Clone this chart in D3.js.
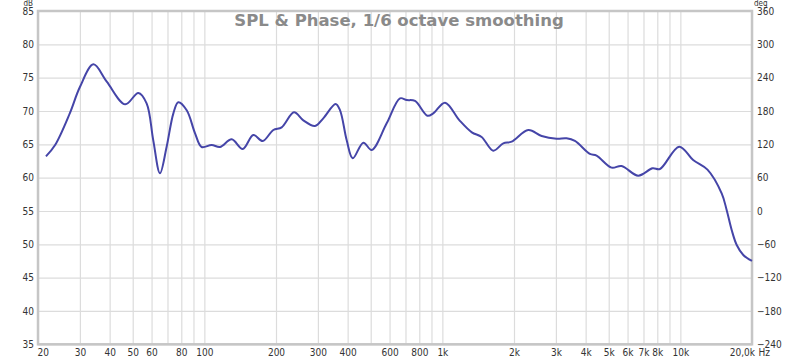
<!DOCTYPE html>
<html>
<head>
<meta charset="utf-8">
<script src="https://cdn.jsdelivr.net/npm/d3@7"></script>
<style>
  body { margin: 0; background: #fff; }
  svg { display: block; }
</style>
</head>
<body>
<div id="chart"></div>
<script>
// SPL curve, 1/6 octave smoothed
const freqs = [21.6, 23.6, 27.2, 30.0, 34.2, 38.9, 46.5, 52.8, 57.2, 61.0, 65.1, 69.4, 74.1, 77.7, 84.3, 91.4, 97.4,
  107.3, 116.3, 130.3, 144.9, 160.6, 175.8, 194.9, 211.3, 238, 260.5, 291.6, 316, 356, 371.7, 396.4, 420.2,
  465.6, 504.7, 583.5, 663.8, 708, 767.6, 865, 916, 1026, 1180, 1330, 1462, 1636, 1803, 1955, 2296, 2614,
  3020, 3327, 3606, 4168, 4446, 5140, 5663, 6650, 7640, 8206, 9890, 11320, 13000, 14930, 15650, 16430,
  17250, 18380, 20000]
const spl = [63.2, 64.9, 69.65, 73.6, 77.0, 74.4, 71.0, 72.7, 71.15, 65.6, 60.65, 64.6, 69.65, 71.3, 70.1, 66.65, 64.6,
  64.9, 64.6, 65.75, 64.3, 66.4, 65.5, 67.15, 67.55, 69.8, 68.6, 67.75, 68.9, 71.05, 70.1, 65.6, 62.9,
  65.25, 64.15, 68.15, 71.9, 71.65, 71.5, 69.3, 69.65, 71.25, 68.6, 66.8, 66.1, 64.05, 65.15, 65.4, 67.15, 66.25,
  65.85, 65.9, 65.5, 63.55, 63.3, 61.5, 61.75, 60.3, 61.4, 61.3, 64.65, 62.65, 61.2, 57.6, 55.15, 52.15,
  49.9, 48.4, 47.5]

// grid / tick values
const freqGrid = [20, 30, 40, 50, 60, 70, 80, 90, 100, 200, 300, 400, 500, 600, 700, 800, 900, 1000,
  2000, 3000, 4000, 5000, 6000, 7000, 8000, 9000, 10000, 20000]
const freqLabels = { 20: '20', 30: '30', 40: '40', 50: '50', 60: '60', 80: '80', 100: '100', 200: '200',
  300: '300', 400: '400', 600: '600', 800: '800', 1000: '1k', 2000: '2k', 3000: '3k', 4000: '4k',
  5000: '5k', 6000: '6k', 7000: '7k', 8000: '8k', 10000: '10k', 20000: '20,0k' }
const dbTicks = [35, 40, 45, 50, 55, 60, 65, 70, 75, 80, 85]
const degTicks = [-240, -180, -120, -60, 0, 60, 120, 180, 240, 300, 360]
const title = 'SPL & Phase, 1/6 octave smoothing'

const W = 800, H = 362
const margin = { top: 11, right: 48, bottom: 17.7, left: 38 },
  width = W - margin.left - margin.right,
  height = H - margin.top - margin.bottom

const font = '"DejaVu Sans Condensed", "DejaVu Sans", sans-serif'

const svg = d3.select('#chart').append('svg').attr('width', W).attr('height', H)
const g = svg.append('g').attr('transform', `translate(${margin.left},${margin.top})`)

const x = d3.scaleLog().domain([20, 20000]).range([0, width])
const y = d3.scaleLinear().domain([35, 85]).range([height, 0])
const yDeg = d3.scaleLinear().domain([-240, 360]).range([height, 0])

// X grid + labels
const xAxis = g.append('g')
  .attr('transform', `translate(0,${height})`)
  .call(d3.axisBottom(x).tickValues(freqGrid).tickSize(-height).tickPadding(5)
    .tickFormat((d) => freqLabels[d] || ''))
xAxis.select('.domain').remove()
xAxis.selectAll('line').attr('stroke', '#dcdcdc').attr('stroke-width', 1.2)
xAxis.selectAll('text').attr('fill', '#333').style('font', `10px ${font}`)
xAxis.selectAll('text').filter((d) => d === 20).attr('text-anchor', 'start').attr('dx', -1)
xAxis.selectAll('text').filter((d) => d === 20000).attr('text-anchor', 'end').attr('dx', 2.5)

// Y grid + labels (dB)
const yAxis = g.append('g')
  .call(d3.axisLeft(y).tickValues(dbTicks).tickSize(-width).tickPadding(4))
yAxis.select('.domain').remove()
yAxis.selectAll('line').attr('stroke', '#dcdcdc').attr('stroke-width', 1.2)
yAxis.selectAll('text').attr('fill', '#333').style('font', `10px ${font}`)

// right axis (deg)
const yAxisR = g.append('g')
  .attr('transform', `translate(${width},0)`)
  .call(d3.axisRight(yDeg).tickValues(degTicks).tickSize(0).tickPadding(5))
yAxisR.select('.domain').remove()
yAxisR.selectAll('text').attr('fill', '#333').style('font', `10px ${font}`)

// frame
g.append('rect')
  .attr('width', width)
  .attr('height', height)
  .attr('fill', 'none')
  .attr('stroke', '#c6c6c6')
  .attr('stroke-width', 2.5)

// unit labels
svg.append('text').attr('x', 33).attr('y', 6).attr('text-anchor', 'end')
  .attr('fill', '#333').style('font', `8px ${font}`).text('dB')
svg.append('text').attr('x', 754).attr('y', 6)
  .attr('fill', '#333').style('font', `8px ${font}`).text('deg')
svg.append('text').attr('x', margin.left + width + 6.5).attr('y', margin.top + height + 5).attr('dy', '0.71em')
  .attr('fill', '#333').style('font', `10px ${font}`).text('Hz')

// title
svg.append('text')
  .attr('x', 399)
  .attr('y', 26)
  .attr('text-anchor', 'middle')
  .attr('fill', '#8a8a8a')
  .style('font', 'bold 16.5px "DejaVu Sans", sans-serif')
  .text(title)

// SPL curve
const data = freqs.map((f, i) => ({ f, v: spl[i] }))
g.append('path')
  .datum(data)
  .attr('d', d3.line().x((d) => x(d.f)).y((d) => y(d.v)).curve(d3.curveCatmullRom.alpha(0.5)))
  .attr('fill', 'none')
  .attr('stroke', '#4545a8')
  .attr('stroke-width', 2)
</script>
</body>
</html>
